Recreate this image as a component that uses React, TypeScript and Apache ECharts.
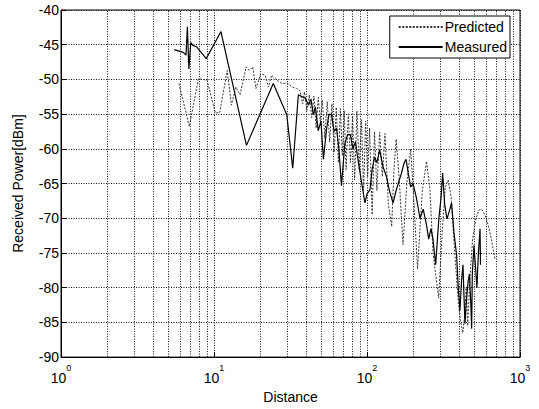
import React, { useEffect, useRef } from "react";
import * as echarts from "echarts";

// Predicted (dotted): [distance, received power dBm]
const predicted: [number, number][] = [
  [5.9, -50.6], [6.9, -56.8], [7.9, -49.9], [9.0, -50.1], [10.2, -54.8], [10.9, -54.8],
  [12.2, -48.7], [13.0, -53.7], [13.9, -51.1], [14.8, -52.2], [16.2, -48.2], [17.0, -48.7],
  [17.9, -48.2], [18.8, -51.3], [20.2, -49.2], [21.6, -49.4], [22.7, -51.1], [23.8, -49.4],
  [25.7, -50.1], [27.8, -50.6], [29.9, -50.5], [32.6, -51.1], [34.7, -51.3], [36.4, -51.6],
  [38, -53.5], [39, -51.8], [40.5, -54.5], [42, -52.2], [43.5, -55.5], [45, -52.4],
  [46.5, -57], [48, -52.6], [49.5, -56], [51, -53], [53, -58.5], [55, -53.2], [57, -59],
  [59, -53.5], [61, -60.5], [63, -54], [65, -62], [67, -54.2], [69, -61], [71, -54.5],
  [73, -63], [75.5, -55], [78, -62], [80.5, -55.2], [83, -64.5], [86, -54.5], [89, -63],
  [92, -55.8], [95, -66], [98, -56], [101, -64], [104, -57], [108, -69.5], [112, -57.5],
  [116, -66], [121, -57.6], [126, -64], [131, -57.8], [138, -68], [145, -71.2], [150, -63],
  [155, -58.6], [162, -64], [172, -73.8], [182, -65], [193, -60], [203, -68], [214, -77.3],
  [230, -66], [245, -61.8], [258, -66], [270, -75], [294, -81.5], [310, -72], [325, -65.5],
  [339, -64.5], [355, -67], [372, -74], [395, -82], [410, -85], [423, -86.5], [435, -84],
  [445, -80], [455, -85.5], [470, -79], [490, -73], [515, -70], [540, -68.8], [560, -68.7],
  [590, -69.5], [620, -71], [650, -73], [687, -76],
];

// Measured (solid): [distance, received power dBm]
const measured: [number, number][] = [
  [5.5, -45.7], [6.3, -46.1], [6.56, -46.5], [6.7, -42.4], [6.85, -48.5], [7.05, -44.7],
  [7.26, -45.1], [7.7, -45.3], [8.9, -47.0], [11.1, -43.1], [16.3, -59.5], [24.4, -50.6],
  [29.9, -55.1], [32.7, -62.8], [35.6, -52.2], [39.4, -52.7], [41.5, -53.7], [43, -52.8],
  [44.6, -55.1], [46, -54], [48, -57.4], [50, -56], [51.9, -61.5], [54.5, -57], [56.5, -55],
  [58.6, -55.1], [61, -57.5], [63.2, -57], [65.5, -60], [68.1, -65.3], [71.6, -59.3],
  [74.5, -58], [77.7, -57.9], [81, -60], [84, -59], [88, -62], [92.4, -65], [97, -67.8],
  [100, -66.5], [104.5, -65.9], [108, -63], [112, -61.2], [116, -62], [121, -60.2],
  [127, -62.5], [134, -64], [140, -66], [148, -67.8], [155, -66], [160, -65], [168, -63.5],
  [175, -62], [180, -61.5], [186, -63.5], [193, -65.5], [200, -65], [210, -67], [222, -70],
  [233, -68.7], [245, -71], [253, -73], [262, -71.5], [270, -73], [281, -76.7], [295, -70],
  [305, -67], [312, -63.5], [322, -68], [333, -70.1], [345, -69], [357, -67.8], [370, -72],
  [385, -75.3], [395, -80], [405, -83.3], [415, -79], [424, -76.7], [430, -81], [437, -85.2],
  [446, -82], [458, -79.1], [467, -78], [477, -82.4], [483, -85.9], [488, -78], [500, -73.9],
  [512, -77], [523, -80.0], [534, -75.3], [548, -71.5], [552, -76.7],
];

// Minor log grid lines (2..9 per decade)
const minorGridValues: number[] = [2, 3, 4, 5, 6, 7, 8, 9, 20, 30, 40, 50, 60, 70, 80, 90, 200, 300, 400, 500, 600, 700, 800, 900];

const FONT = "'Liberation Sans', Arial, Helvetica, sans-serif";

export default function App() {
  const ref = useRef<HTMLDivElement>(null);
  useEffect(() => {
    document.body.style.margin = "0";
    if (!ref.current) return;
    const chart = echarts.init(ref.current, undefined, { renderer: "svg" });
    const gridLine = { color: "#111", type: [1, 1.5] as any, width: 1 };
    chart.setOption({
      animation: false,
      backgroundColor: "#fff",
      textStyle: { fontFamily: FONT },
      grid: {
        left: 61, right: 19, top: 10, bottom: 45,
        show: true, borderColor: "#000", borderWidth: 1, backgroundColor: "transparent",
      },
      legend: {
        orient: "vertical",
        right: 29,
        top: 16,
        backgroundColor: "#fff",
        borderColor: "#000",
        borderWidth: 1,
        padding: [4, 3, 4, 8],
        itemGap: 6,
        itemWidth: 44,
        itemHeight: 14,
        itemStyle: { opacity: 0, borderWidth: 0, color: "transparent" },
        textStyle: { fontFamily: FONT, fontSize: 14, color: "#000", padding: [0, 0, 0, -3] },
        data: ["Predicted", "Measured"],
      },
      xAxis: {
        type: "log",
        logBase: 10,
        min: 1,
        max: 1000,
        name: "Distance",
        nameLocation: "middle",
        nameGap: 27,
        nameTextStyle: { fontFamily: FONT, fontSize: 14, color: "#000" },
        axisLine: { lineStyle: { color: "#000" } },
        axisTick: { inside: true, length: 5, lineStyle: { color: "#000" } },
        splitLine: { show: true, lineStyle: gridLine },
        axisLabel: {
          margin: 6,
          formatter: (v: number) => `{b|10}{s|${Math.round(Math.log10(v))}}`,
          rich: {
            b: { fontFamily: FONT, fontSize: 14, color: "#000", verticalAlign: "bottom", lineHeight: 22 },
            s: { fontFamily: FONT, fontSize: 9, color: "#000", verticalAlign: "top", lineHeight: 22 },
          },
        },
      },
      yAxis: {
        type: "value",
        min: -90,
        max: -40,
        interval: 5,
        name: "Received Power[dBm]",
        nameLocation: "middle",
        nameGap: 36,
        nameTextStyle: { fontFamily: FONT, fontSize: 14, color: "#000" },
        axisLine: { show: true, lineStyle: { color: "#000" } },
        axisTick: { show: true, inside: true, length: 5, lineStyle: { color: "#000" } },
        splitLine: { show: true, lineStyle: gridLine },
        axisLabel: { margin: 2, fontFamily: FONT, fontSize: 14, color: "#000" },
      },
      series: [
        {
          name: "Predicted",
          type: "line",
          data: predicted,
          symbol: "none",
          lineStyle: { color: "#333", width: 1, type: [2, 1.5] as any },
          itemStyle: { color: "#333" },
          z: 3,
          markLine: {
            silent: true,
            symbol: "none",
            label: { show: false },
            lineStyle: gridLine,
            z: 1,
            data: minorGridValues.map((v) => ({ xAxis: v })),
          },
        },
        {
          name: "Measured",
          type: "line",
          data: measured,
          symbol: "none",
          lineStyle: { color: "#000", width: 1.2 },
          itemStyle: { color: "#000" },
          z: 4,
        },
      ],
    });
    return () => chart.dispose();
  }, []);
  return <div ref={ref} style={{ width: 539, height: 409 }} />;
}
